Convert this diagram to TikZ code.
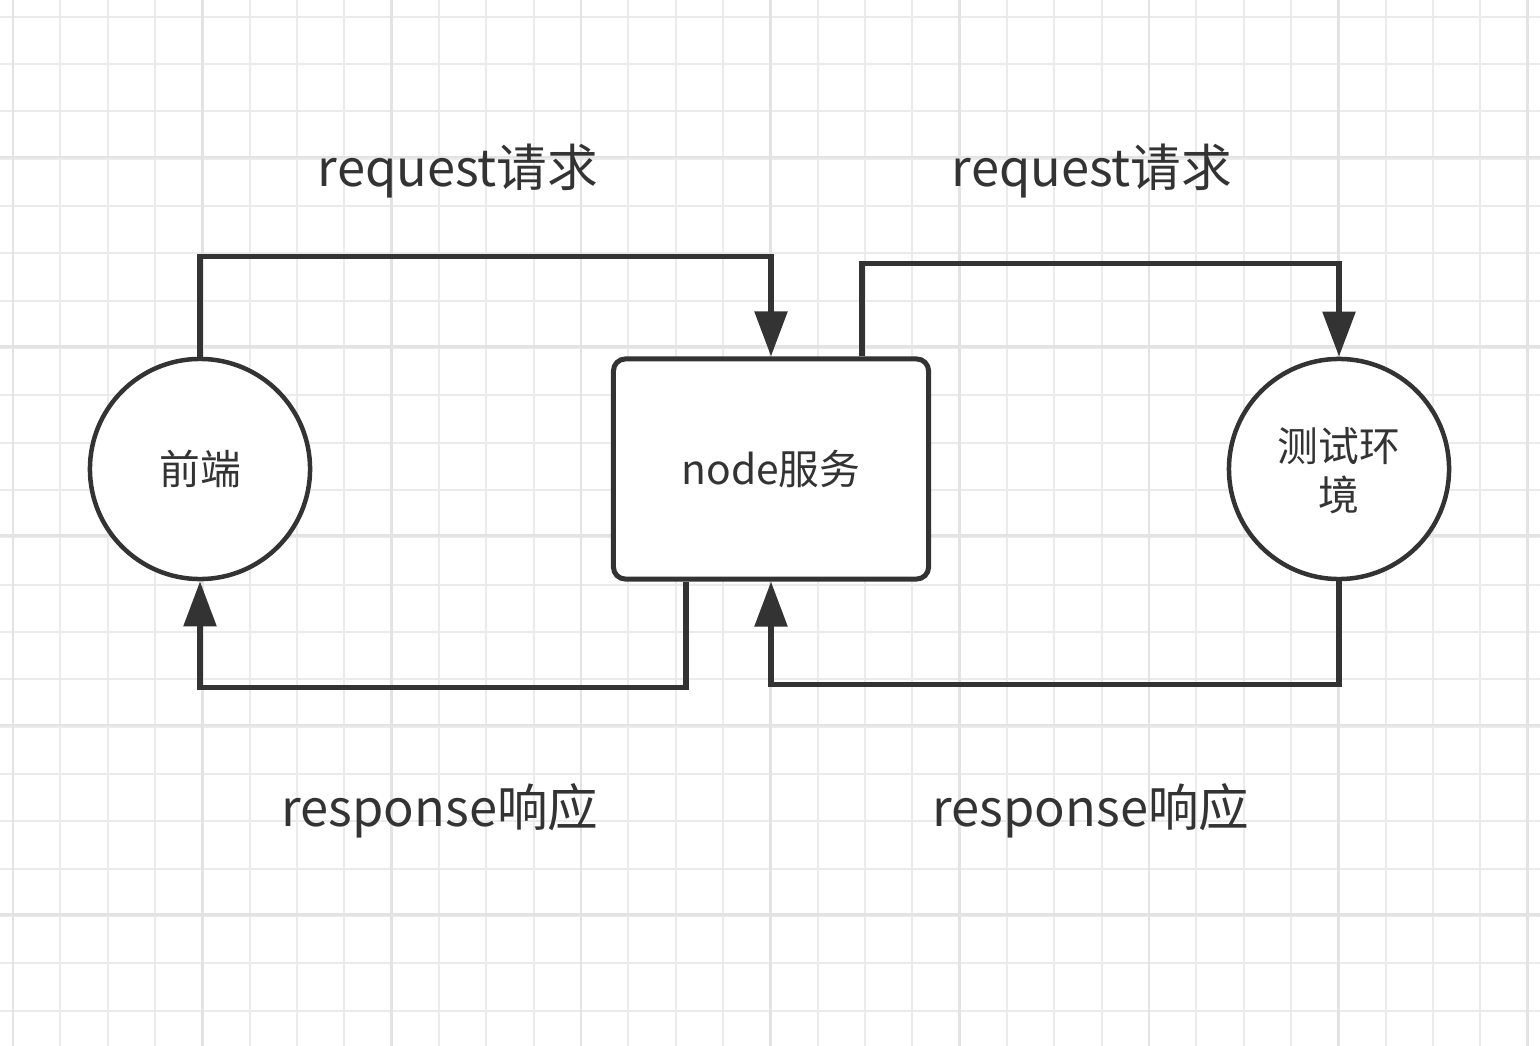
\documentclass[tikz,border=0pt]{standalone}
\usepackage{fontspec}
\setmainfont{Noto Sans CJK SC}
\usetikzlibrary{arrows.meta,calc}
\definecolor{ink}{HTML}{333333}
\definecolor{gridminor}{HTML}{EBEBEB}
\definecolor{gridmajor}{HTML}{E3E3E3}
\tikzset{
  conn/.style={draw=ink, line width=0.055cm, -{Triangle[length=0.45cm,width=0.32cm]}},
  roundnode/.style={circle, draw=ink, line width=0.045cm, fill=white, minimum size=2.20cm, inner sep=0pt, text=ink, font=\fontsize{11.6pt}{14pt}\selectfont, align=center},
  boxnode/.style={rectangle, rounded corners=0.12cm, draw=ink, line width=0.05cm, fill=white, minimum width=3.15cm, minimum height=2.20cm, text=ink, font=\fontsize{11.6pt}{14pt}\selectfont},
  flowlabel/.style={text=ink, font=\fontsize{14.4pt}{17pt}\selectfont, inner sep=0pt}
}
\begin{document}
\begin{tikzpicture}[x=0.01cm, y=-0.01cm]
\useasboundingbox (0,0) rectangle (1540,1046);
\fill[white] (0,0) rectangle (1540,1046);
% grid
\foreach \i in {0,...,32} {
  \pgfmathsetmacro{\gx}{13+47.33*\i}
  \draw[gridminor, line width=0.02cm] (\gx,0) -- (\gx,1046);
}
\foreach \i in {0,...,22} {
  \pgfmathsetmacro{\gy}{16.6+47.33*\i}
  \draw[gridminor, line width=0.02cm] (0,\gy) -- (1540,\gy);
}
\foreach \i in {0,...,8} {
  \pgfmathsetmacro{\gx}{13+189.33*\i}
  \draw[gridmajor, line width=0.025cm] (\gx,0) -- (\gx,1046);
}
\foreach \i in {0,...,5} {
  \pgfmathsetmacro{\gy}{157+189.33*\i}
  \draw[gridmajor, line width=0.025cm] (0,\gy) -- (1540,\gy);
}
% nodes
\node[roundnode] (fe) at (200,469) {前端};
\node[boxnode] (ns) at (771,469) {node服务};
\node[roundnode, text depth=-2pt] (te) at (1339,469) {测试环\\境};
% labels
\node[flowlabel] (l1) at (458,171) {request请求};
\node[flowlabel] (l2) at (1092,171) {request请求};
\node[flowlabel] (l3) at (440,811) {response响应};
\node[flowlabel] (l4) at (1091,811) {response响应};
% connectors
\draw[conn] (fe.north) -- ++(0,-100) -| (ns.north);
\draw[conn] ($(ns.north)+(91,0)$) -- ++(0,-93) -| (te.north);
\draw[conn] (te.south) -- ++(0,103) -| (ns.south);
\draw[conn] ($(ns.south)+(-85,0)$) -- ++(0,106) -| (fe.south);
\end{tikzpicture}
\end{document}
